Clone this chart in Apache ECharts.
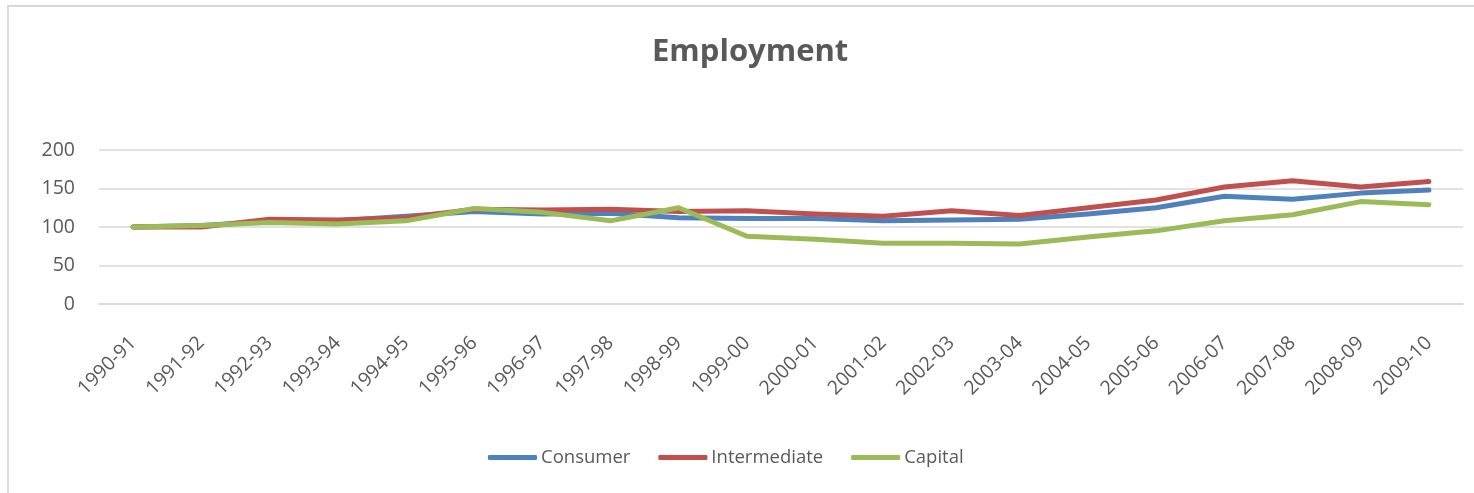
<!DOCTYPE html>
<html>
<head>
<meta charset="utf-8">
<script src="https://cdn.jsdelivr.net/npm/echarts@6/dist/echarts.min.js"></script>
<style>
  html, body { margin: 0; padding: 0; background: #ffffff; }
  #chart { width: 1474px; height: 493px; }
</style>
</head>
<body>
<div id="chart"></div>
<script>
// Employment index by use-based industry group, 1990-91 = 100
const years = ['1990-91', '1991-92', '1992-93', '1993-94', '1994-95', '1995-96', '1996-97',
  '1997-98', '1998-99', '1999-00', '2000-01', '2001-02', '2002-03', '2003-04', '2004-05',
  '2005-06', '2006-07', '2007-08', '2008-09', '2009-10'];
const consumer = [100, 102, 107, 108, 114, 120, 117, 118, 112, 111, 111, 108, 109, 110, 117, 125, 140, 136, 144, 148];
const intermediate = [100, 100, 110, 109, 112, 123, 122, 123, 120, 121, 117, 114, 121, 115, 125, 135, 152, 160, 152, 159];
const capital = [100, 102, 106, 104, 108, 124, 119, 108, 125, 88, 84, 79, 79, 78, 87, 95, 108, 116, 133, 129];
const yTicks = { min: 0, max: 200, step: 50 };

const font = 'Open Sans, Liberation Sans, sans-serif';
const textGrey = '#595959';

function lineSeries(name, data, color) {
  return {
    name: name,
    type: 'line',
    data: data,
    symbol: 'none',
    smooth: false,
    lineStyle: { width: 5, color: color, cap: 'round', join: 'round' },
    itemStyle: { color: color },
    emphasis: { disabled: true }
  };
}

const chart = echarts.init(document.getElementById('chart'), null, { renderer: 'canvas' });
chart.setOption({
  animation: false,
  backgroundColor: '#ffffff',
  title: {
    text: 'Employment',
    left: 647,
    top: 32,
    textStyle: { fontFamily: font, fontSize: 31, fontWeight: 'bold', color: textGrey }
  },
  graphic: [{
    type: 'rect',
    shape: { x: 8, y: 6, width: 1500, height: 520 },
    style: { fill: 'none', stroke: '#d9d9d9', lineWidth: 2 },
    silent: true,
    z: -1
  }],
  legend: {
    bottom: 21,
    left: 483,
    itemWidth: 49,
    itemHeight: 5,
    itemGap: 28,
    icon: 'roundRect',
    textStyle: { fontFamily: font, fontSize: 18.5, color: textGrey, padding: [0, 0, 0, -1] },
    data: ['Consumer', 'Intermediate', 'Capital']
  },
  grid: { left: 99, right: 11, top: 150, height: 154, containLabel: false },
  xAxis: {
    type: 'category',
    data: years,
    boundaryGap: true,
    axisLine: { show: true, lineStyle: { color: '#d9d9d9', width: 1.5 } },
    axisTick: { show: false },
    axisLabel: {
      rotate: 45,
      margin: 36,
      interval: 0,
      fontFamily: font,
      fontSize: 19.5,
      color: textGrey
    }
  },
  yAxis: {
    type: 'value',
    min: yTicks.min,
    max: yTicks.max,
    interval: yTicks.step,
    axisLine: { show: false },
    axisTick: { show: false },
    splitLine: { lineStyle: { color: '#d9d9d9', width: 1.5 } },
    axisLabel: { margin: 24, fontFamily: font, fontSize: 19.5, color: textGrey }
  },
  series: [
    lineSeries('Consumer', consumer, '#4f81bd'),
    lineSeries('Intermediate', intermediate, '#c0504d'),
    lineSeries('Capital', capital, '#9bbb59')
  ]
});
</script>
</body>
</html>
